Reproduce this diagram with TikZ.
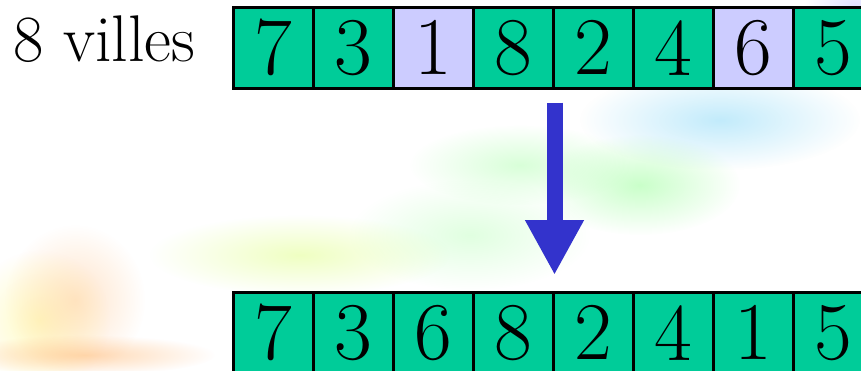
\documentclass[tikz,border=0pt]{standalone}
\usetikzlibrary{arrows.meta,positioning,fadings}
\definecolor{cellgreen}{RGB}{0,204,153}
\definecolor{cellmauve}{RGB}{204,204,255}
\definecolor{arrowblue}{RGB}{51,51,204}
\tikzfading[name=softblob, inner color=transparent!0, outer color=transparent!100]

\begin{document}
\begin{tikzpicture}[
  x=1pt, y=-1pt,
  cell/.style={draw=black, line width=2.5pt, fill=#1, minimum width=80pt, minimum height=81pt,
    inner sep=0pt, anchor=north west, font=\fontsize{82}{84}\selectfont},
  cell/.default=cellgreen,
  blob/.style={fill=#1, path fading=softblob, fill opacity=0.6},
  bigarrow/.style={-{Triangle[length=55pt,width=55pt]}, line width=16pt, draw=arrowblue}
]
  \clip (0,0) rectangle (861,370);
  \fill[white] (0,0) rectangle (861,370);

  % faint watercolour background
  \fill[blob=cyan!40] (720,120) ellipse [x radius=140, y radius=50];
  \fill[blob=blue!20] (855,5) ellipse [x radius=50, y radius=25];
  \fill[blob=green!35] (640,185) ellipse [x radius=100, y radius=50];
  \fill[blob=green!25] (520,165) ellipse [x radius=110, y radius=40];
  \fill[blob=green!20] (470,235) ellipse [x radius=120, y radius=55];
  \fill[blob=lime!40] (300,255) ellipse [x radius=150, y radius=40];
  \fill[blob=yellow!40] (40,320) ellipse [x radius=70, y radius=70];
  \fill[blob=orange!35] (75,300) ellipse [x radius=70, y radius=75];
  \fill[blob=orange!50] (85,355) ellipse [x radius=130, y radius=20];

  % label
  \node[anchor=base west, inner sep=0pt, font=\fontsize{66}{68}\selectfont] (lbl) at (13,61) {8 villes};

  % parent tour
  \foreach \v/\c [count=\i] in {7/cellgreen,3/cellgreen,1/cellmauve,8/cellgreen,
                                2/cellgreen,4/cellgreen,6/cellmauve,5/cellgreen}
    \node[cell=\c] (top\i) at ({232+80*(\i-1)},6) {\v};

  % child tour, 1 and 6 swapped
  \foreach \v [count=\i] in {7,3,6,8,2,4,1,5}
    \node[cell] (bot\i) at ({232+80*(\i-1)},291) {\v};

  \draw[bigarrow] ([yshift=-13pt]top4.south east) -- ([yshift=16pt]bot4.north east);
\end{tikzpicture}
\end{document}
